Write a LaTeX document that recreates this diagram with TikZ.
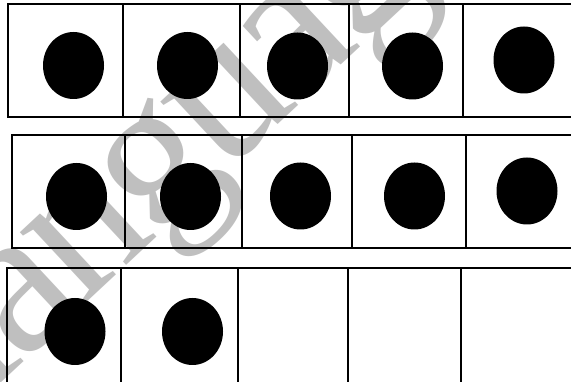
\documentclass[tikz,border=0pt]{standalone}
\usepackage{fontspec}
\newfontfamily\wmfont[LetterSpace=-4]{Liberation Serif}
\begin{document}
\begin{tikzpicture}[x=1pt,y=-1pt,
  gridline/.style={line width=2.2pt,black},
  dot/.style={fill=black},
  wm/.style={text=black!25,font=\wmfont\fontsize{210}{210}\selectfont,inner sep=0pt}]
\useasboundingbox (0,0) rectangle (571,382);
\begin{scope}
\clip (0,0) rectangle (571,382);
\node[wm,rotate=43,anchor=base] (watermark) at (240,160) {language};
% row 1
\draw[gridline] (572,4) -- (8,4) -- (8,117) -- (572,117);
\foreach \x in {123,240,349,463} \draw[gridline] (\x,4) -- (\x,117);
% row 2
\draw[gridline] (572,135) -- (12,135) -- (12,248) -- (572,248);
\foreach \x in {125,242,352,466} \draw[gridline] (\x,135) -- (\x,248);
% row 3
\draw[gridline] (7,384) -- (7,268) -- (572,268);
\foreach \x in {121,238,348,461} \draw[gridline] (\x,268) -- (\x,384);
% dots
\foreach \cx/\cy in {73.5/65.5,187.5/65.5,297.5/66,412.5/66,524/60,
                     76.5/196.5,190.5/196.5,300.5/196,414.5/196,527/191,
                     75/331.5,192.5/331.5}
  \fill[dot] (\cx,\cy) ellipse [x radius=30.5pt,y radius=33.5pt];
\end{scope}
\end{tikzpicture}
\end{document}
